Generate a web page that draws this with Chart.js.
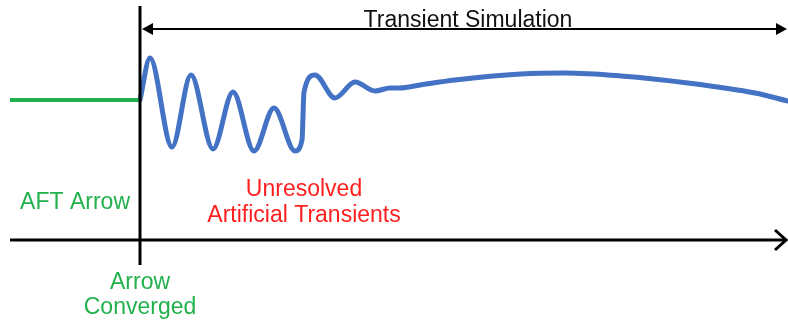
<!DOCTYPE html>
<html>
<head>
<meta charset="utf-8">
<script src="https://cdn.jsdelivr.net/npm/chart.js@4/dist/chart.umd.min.js"></script>
<style>
  body { margin: 0; background: #fff; }
  #wrap { width: 788px; height: 324px; position: relative; }
</style>
</head>
<body>
<div id="wrap"><canvas id="chart"></canvas></div>
<script>
// 시간축(t) / 응답값(v) - 그림에서 읽은 값
const transientTime = [0, 1.0, 3.2, 5.1, 7.3, 9.3, 11.4, 13.4, 15.5, 16.2, 16.4, 17.5, 19.5, 21.5, 23.5, 25.0, 26.0, 28.0, 31.5, 38.1, 42.5, 48.1, 54.8, 61.5, 64.8];
const transientValue = [0, 4.2, -4.7, 2.5, -4.9, 0.8, -5.1, -0.8, -5.1, -4.0, 0.8, 2.5, 0.2, 1.8, 0.9, 1.2, 1.2, 1.5, 2.0, 2.6, 2.7, 2.4, 1.7, 0.7, -0.1];

const aftTime = [-13, 0];
const aftValue = [0, 0];

// 축/화살표 위치 (데이터 단위)
const axisLevel = -14;        // 가로축
const axisStart = -13;
const axisEnd = 64.6;
const vertTop = 9.4;
const vertBottom = -16.5;
const spanLevel = 7.1;        // "Transient Simulation" 화살표
const spanStart = 0.2;
const spanEnd = 64.7;

// 라벨
const labels = [
    { text: 'Transient Simulation', t: 32.8, v: 7.3, align: 'center', color: '#111111' },
    { text: 'AFT Arrow', t: -1, v: -10.9, align: 'right', color: '#22b14c' },
    { text: 'Unresolved', t: 16.4, v: -9.6, align: 'center', color: '#ff1f1f' },
    { text: 'Artificial Transients', t: 16.4, v: -12.2, align: 'center', color: '#ff1f1f' },
    { text: 'Arrow', t: 0, v: -18.9, align: 'center', color: '#22b14c' },
    { text: 'Converged', t: 0, v: -21.4, align: 'center', color: '#22b14c' }
];

// 축, 화살표, 텍스트 그리기
const decorPlugin = {
    id: 'decor',
    afterDatasetsDraw(chart) {
        const ctx = chart.ctx;
        const xs = chart.scales.x;
        const ys = chart.scales.y;
        const px = t => xs.getPixelForValue(t);
        const py = v => ys.getPixelForValue(v);

        ctx.save();
        ctx.strokeStyle = '#000';
        ctx.fillStyle = '#000';
        ctx.lineCap = 'butt';

        // 세로축
        ctx.lineWidth = 3;
        ctx.beginPath();
        ctx.moveTo(px(0), py(vertTop));
        ctx.lineTo(px(0), py(vertBottom));
        ctx.stroke();

        // 가로축
        ctx.beginPath();
        ctx.moveTo(px(axisStart), py(axisLevel));
        ctx.lineTo(px(axisEnd) - 1, py(axisLevel));
        ctx.stroke();
        // 열린 화살촉
        ctx.lineJoin = 'miter';
        ctx.beginPath();
        ctx.moveTo(px(axisEnd) - 11, py(axisLevel) - 10);
        ctx.lineTo(px(axisEnd), py(axisLevel));
        ctx.lineTo(px(axisEnd) - 11, py(axisLevel) + 10);
        ctx.stroke();

        // 위쪽 양방향 화살표
        ctx.lineWidth = 2;
        ctx.beginPath();
        ctx.moveTo(px(spanStart) + 6, py(spanLevel));
        ctx.lineTo(px(spanEnd) - 6, py(spanLevel));
        ctx.stroke();
        ctx.beginPath();
        ctx.moveTo(px(spanStart), py(spanLevel));
        ctx.lineTo(px(spanStart) + 11, py(spanLevel) - 6);
        ctx.lineTo(px(spanStart) + 11, py(spanLevel) + 6);
        ctx.closePath();
        ctx.fill();
        ctx.beginPath();
        ctx.moveTo(px(spanEnd), py(spanLevel));
        ctx.lineTo(px(spanEnd) - 11, py(spanLevel) - 6);
        ctx.lineTo(px(spanEnd) - 11, py(spanLevel) + 6);
        ctx.closePath();
        ctx.fill();

        // 텍스트
        ctx.font = '23px "Liberation Sans", Arial, sans-serif';
        ctx.textBaseline = 'alphabetic';
        labels.forEach(l => {
            ctx.fillStyle = l.color;
            ctx.textAlign = l.align;
            ctx.fillText(l.text, px(l.t), py(l.v));
        });
        ctx.restore();
    }
};

new Chart(document.getElementById('chart'), {
    type: 'scatter',
    data: {
        datasets: [{
            label: 'AFT Arrow',
            data: aftTime.map((t, i) => ({ x: t, y: aftValue[i] })),
            showLine: true,
            borderColor: '#1fb14f',
            borderWidth: 4,
            pointRadius: 0,
            tension: 0
        }, {
            label: 'Transient',
            data: transientTime.map((t, i) => ({ x: t, y: transientValue[i] })),
            showLine: true,
            borderColor: '#4472c4',
            borderWidth: 5,
            pointRadius: 0,
            cubicInterpolationMode: 'monotone',
            borderCapStyle: 'round',
            borderJoinStyle: 'round'
        }]
    },
    options: {
        responsive: true,
        maintainAspectRatio: false,
        animation: false,
        layout: { padding: 0 },
        clip: false,
        plugins: {
            legend: { display: false },
            tooltip: { enabled: false }
        },
        scales: {
            x: { type: 'linear', min: -14, max: 64.8, display: false },
            y: { type: 'linear', min: -22.4, max: 10, display: false }
        }
    },
    plugins: [decorPlugin]
});
</script>
</body>
</html>
